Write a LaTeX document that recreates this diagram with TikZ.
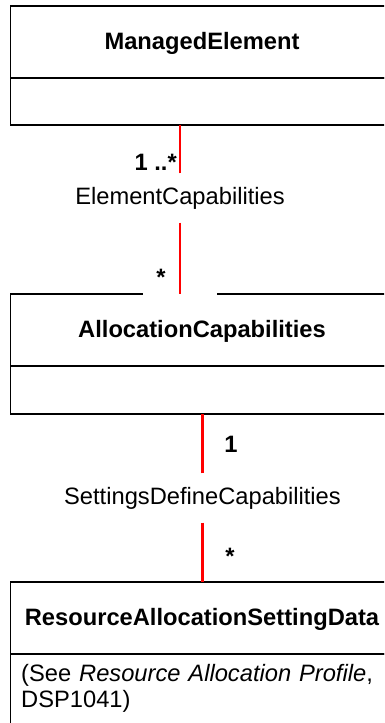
\documentclass[tikz,border=0pt]{standalone}
\usepackage{fontspec}
\setmainfont{Liberation Sans}
\usetikzlibrary{positioning}

\begin{document}
\begin{tikzpicture}[
    x=1pt, y=-1pt,
    font=\fontsize{23.7}{26.5}\selectfont,
    classbox/.style={rectangle, draw=black, line width=1.8pt, minimum width=383pt, minimum height=72pt, inner sep=0pt, outer sep=0pt, text height=17pt, text depth=2pt, font=\fontsize{23.7}{26.5}\selectfont\bfseries},
    attrbox/.style={rectangle, draw=black, line width=1.8pt, minimum width=383pt, inner sep=0pt, outer sep=0pt},
    assoc/.style={draw=red, line width=2.4pt},
    assoclabel/.style={inner sep=0pt, minimum height=49pt},
    mult/.style={inner sep=0pt, font=\fontsize{23.7}{26.5}\selectfont\bfseries}
]

% Frame
\clip (0,0) rectangle (384,723);

% Classes
\node[classbox] (managed) at (202,42) {ManagedElement};
\node[attrbox, minimum height=47pt, below=0pt of managed] (managedattr) {};

\node[classbox] (alloccap) at (202,330) {AllocationCapabilities};
\node[attrbox, minimum height=48pt, below=0pt of alloccap] (alloccapattr) {};

\node[classbox] (rasd) at (202,618) {ResourceAllocationSettingData};
\node[attrbox, minimum height=90pt, below=0pt of rasd] (rasdattr) {};
\node[text width=363pt, align=left, inner sep=0pt, below right=10pt and 10.5pt of rasdattr.north west] (rasdnote) {(See \textit{Resource Allocation Profile},\\DSP1041)};

% Gap in the top edge
\fill[white] (143,286) rectangle (217,296);

% Associations
\node[assoclabel] (elemcap) at (180,198) {ElementCapabilities};
\draw[assoc] (elemcap.north) -- (elemcap.north |- managedattr.south);
\draw[assoc] (elemcap.south) -- (elemcap.south |- alloccap.north);

\node[assoclabel] (setdef) at (202.5,498) {SettingsDefineCapabilities};
\draw[assoc] (setdef.north) -- (setdef.north |- alloccapattr.south);
\draw[assoc] (setdef.south) -- (setdef.south |- rasd.north);

% Multiplicities
\node[mult, anchor=base east] (elemcapsrc) at (177,170) {1 ..*};
\node[mult, anchor=base] (elemcapdst) at (161,285) {*};
\node[mult, anchor=base] (setdefsrc) at (231,452) {1};
\node[mult, anchor=base] (setdefdst) at (230,564) {*};

\end{tikzpicture}
\end{document}
